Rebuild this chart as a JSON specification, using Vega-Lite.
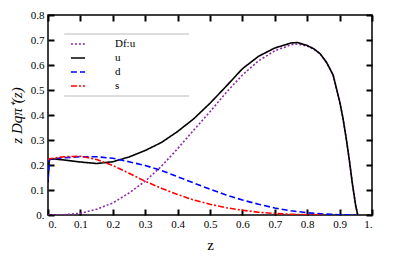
{
  "$schema": "https://vega.github.io/schema/vega-lite/v6.json",
  "width": 324,
  "height": 200,
  "autosize": {"type": "none"},
  "padding": {"left": 48, "top": 15, "right": 43, "bottom": 43},
  "config": {
    "font": "Liberation Serif",
    "view": {"stroke": "black", "strokeWidth": 1.5}
  },
  "data": {"values": [
    {"series": "Df:u", "z": 0, "v": 0},
    {"series": "Df:u", "z": 0.05, "v": 0.001},
    {"series": "Df:u", "z": 0.1, "v": 0.007},
    {"series": "Df:u", "z": 0.15, "v": 0.023},
    {"series": "Df:u", "z": 0.2, "v": 0.048},
    {"series": "Df:u", "z": 0.25, "v": 0.088},
    {"series": "Df:u", "z": 0.3, "v": 0.135},
    {"series": "Df:u", "z": 0.35, "v": 0.195},
    {"series": "Df:u", "z": 0.4, "v": 0.265},
    {"series": "Df:u", "z": 0.45, "v": 0.34},
    {"series": "Df:u", "z": 0.5, "v": 0.413},
    {"series": "Df:u", "z": 0.55, "v": 0.49},
    {"series": "Df:u", "z": 0.6, "v": 0.56},
    {"series": "Df:u", "z": 0.65, "v": 0.617},
    {"series": "Df:u", "z": 0.7, "v": 0.657},
    {"series": "Df:u", "z": 0.75, "v": 0.681},
    {"series": "Df:u", "z": 0.77, "v": 0.684},
    {"series": "Df:u", "z": 0.8, "v": 0.676},
    {"series": "Df:u", "z": 0.82, "v": 0.664},
    {"series": "Df:u", "z": 0.84, "v": 0.644},
    {"series": "Df:u", "z": 0.86, "v": 0.609},
    {"series": "Df:u", "z": 0.88, "v": 0.56},
    {"series": "Df:u", "z": 0.9, "v": 0.455},
    {"series": "Df:u", "z": 0.91, "v": 0.39},
    {"series": "Df:u", "z": 0.92, "v": 0.31},
    {"series": "Df:u", "z": 0.93, "v": 0.22},
    {"series": "Df:u", "z": 0.94, "v": 0.12},
    {"series": "Df:u", "z": 0.95, "v": 0.035},
    {"series": "Df:u", "z": 0.956, "v": 0},
    {"series": "u", "z": 0, "v": 0.13},
    {"series": "u", "z": 0.004, "v": 0.222},
    {"series": "u", "z": 0.02, "v": 0.224},
    {"series": "u", "z": 0.05, "v": 0.22},
    {"series": "u", "z": 0.1, "v": 0.212},
    {"series": "u", "z": 0.15, "v": 0.206},
    {"series": "u", "z": 0.2, "v": 0.213},
    {"series": "u", "z": 0.25, "v": 0.232},
    {"series": "u", "z": 0.3, "v": 0.258},
    {"series": "u", "z": 0.35, "v": 0.29},
    {"series": "u", "z": 0.4, "v": 0.334},
    {"series": "u", "z": 0.45, "v": 0.385},
    {"series": "u", "z": 0.5, "v": 0.447},
    {"series": "u", "z": 0.55, "v": 0.515},
    {"series": "u", "z": 0.6, "v": 0.585},
    {"series": "u", "z": 0.65, "v": 0.635},
    {"series": "u", "z": 0.7, "v": 0.668},
    {"series": "u", "z": 0.75, "v": 0.688},
    {"series": "u", "z": 0.77, "v": 0.69},
    {"series": "u", "z": 0.8, "v": 0.678},
    {"series": "u", "z": 0.82, "v": 0.665},
    {"series": "u", "z": 0.84, "v": 0.645},
    {"series": "u", "z": 0.86, "v": 0.61},
    {"series": "u", "z": 0.88, "v": 0.56},
    {"series": "u", "z": 0.9, "v": 0.455},
    {"series": "u", "z": 0.91, "v": 0.39},
    {"series": "u", "z": 0.92, "v": 0.31},
    {"series": "u", "z": 0.93, "v": 0.22},
    {"series": "u", "z": 0.94, "v": 0.12},
    {"series": "u", "z": 0.95, "v": 0.035},
    {"series": "u", "z": 0.956, "v": 0},
    {"series": "d", "z": 0, "v": 0.14},
    {"series": "d", "z": 0.004, "v": 0.222},
    {"series": "d", "z": 0.03, "v": 0.227},
    {"series": "d", "z": 0.1, "v": 0.233},
    {"series": "d", "z": 0.15, "v": 0.233},
    {"series": "d", "z": 0.2, "v": 0.227},
    {"series": "d", "z": 0.25, "v": 0.213},
    {"series": "d", "z": 0.3, "v": 0.198},
    {"series": "d", "z": 0.35, "v": 0.178},
    {"series": "d", "z": 0.4, "v": 0.153},
    {"series": "d", "z": 0.45, "v": 0.128},
    {"series": "d", "z": 0.5, "v": 0.103},
    {"series": "d", "z": 0.55, "v": 0.08},
    {"series": "d", "z": 0.6, "v": 0.06},
    {"series": "d", "z": 0.65, "v": 0.043},
    {"series": "d", "z": 0.7, "v": 0.028},
    {"series": "d", "z": 0.75, "v": 0.017},
    {"series": "d", "z": 0.8, "v": 0.009},
    {"series": "d", "z": 0.85, "v": 0.004},
    {"series": "d", "z": 0.9, "v": 0.001},
    {"series": "d", "z": 0.95, "v": 0},
    {"series": "s", "z": 0, "v": 0.22},
    {"series": "s", "z": 0.004, "v": 0.225},
    {"series": "s", "z": 0.05, "v": 0.233},
    {"series": "s", "z": 0.1, "v": 0.235},
    {"series": "s", "z": 0.15, "v": 0.222},
    {"series": "s", "z": 0.2, "v": 0.198},
    {"series": "s", "z": 0.25, "v": 0.167},
    {"series": "s", "z": 0.3, "v": 0.135},
    {"series": "s", "z": 0.35, "v": 0.107},
    {"series": "s", "z": 0.4, "v": 0.082},
    {"series": "s", "z": 0.45, "v": 0.06},
    {"series": "s", "z": 0.5, "v": 0.043},
    {"series": "s", "z": 0.55, "v": 0.029},
    {"series": "s", "z": 0.6, "v": 0.019},
    {"series": "s", "z": 0.65, "v": 0.011},
    {"series": "s", "z": 0.7, "v": 0.006},
    {"series": "s", "z": 0.75, "v": 0.003},
    {"series": "s", "z": 0.8, "v": 0.001},
    {"series": "s", "z": 0.85, "v": 0}
  ]},
  "layer": [
    {
      "mark": {"type": "line", "strokeWidth": 1.6, "clip": true},
      "encoding": {
        "x": {
          "field": "z", "type": "quantitative",
          "scale": {"domain": [0, 1], "nice": false, "zero": false},
          "axis": {
            "orient": "bottom", "title": "z", "domain": false, "grid": false,
            "values": [0, 0.1, 0.2, 0.3, 0.4, 0.5, 0.6, 0.7, 0.8, 0.9, 1],
            "labelExpr": "datum.value == 0 ? '0.' : datum.value == 1 ? '1.' : format(datum.value, '.1f')",
            "tickSize": -6, "tickColor": "#000000", "tickWidth": 2,
            "labelFont": "Liberation Serif", "labelFontSize": 11, "labelColor": "black", "labelOverlap": false,
            "titleFont": "Liberation Serif", "titleFontSize": 15, "titleFontWeight": "normal", "titleColor": "black",
            "labelPadding": 9, "titlePadding": 8
          }
        },
        "y": {
          "field": "v", "type": "quantitative",
          "scale": {"domain": [0, 0.8], "nice": false, "zero": false},
          "axis": {
            "orient": "left", "title": "z Dq\u03c0\u207a(z)", "domain": false, "grid": false,
            "titleFontStyle": "italic",
            "values": [0, 0.1, 0.2, 0.3, 0.4, 0.5, 0.6, 0.7, 0.8],
            "labelExpr": "datum.value == 0 ? '0.' : format(datum.value, '.1f')",
            "tickSize": -6, "tickColor": "#000000", "tickWidth": 2,
            "labelFont": "Liberation Serif", "labelFontSize": 11, "labelColor": "black", "labelOverlap": false,
            "titleFont": "Liberation Serif", "titleFontSize": 15, "titleFontWeight": "normal", "titleColor": "black",
            "labelPadding": 10, "titlePadding": 6
          }
        },
        "color": {
          "field": "series", "type": "nominal",
          "scale": {"domain": ["Df:u", "u", "d", "s"], "range": ["#8e24aa", "#000000", "#0000ff", "#ff0000"]},
          "legend": {
            "orient": "none", "legendX": 22, "legendY": 21, "title": null,
            "symbolType": "stroke", "symbolSize": 200, "symbolStrokeWidth": 1.6,
            "labelFont": "Liberation Serif", "labelFontSize": 11, "labelColor": "black",
            "labelOffset": 29, "rowPadding": 1, "padding": 0
          }
        },
        "strokeDash": {
          "field": "series", "type": "nominal",
          "scale": {"domain": ["Df:u", "u", "d", "s"], "range": [[2, 2], [1, 0], [6, 3], [6, 2, 2, 2]]},
          "legend": {
            "orient": "none", "legendX": 22, "legendY": 21, "title": null,
            "symbolType": "stroke", "symbolSize": 200, "symbolStrokeWidth": 1.6,
            "labelFont": "Liberation Serif", "labelFontSize": 11, "labelColor": "black",
            "labelOffset": 29, "rowPadding": 1, "padding": 0
          }
        }
      }
    },
    {
      "mark": {"type": "rule", "color": "#dcdcdc", "strokeWidth": 1},
      "encoding": {
        "x": {"datum": 0.052, "type": "quantitative", "axis": null},
        "x2": {"datum": 0.435},
        "y": {"datum": 0.724, "type": "quantitative", "axis": null}
      }
    },
    {
      "mark": {"type": "rule", "color": "#dcdcdc", "strokeWidth": 1},
      "encoding": {
        "x": {"datum": 0.052, "type": "quantitative", "axis": null},
        "x2": {"datum": 0.435},
        "y": {"datum": 0.476, "type": "quantitative", "axis": null}
      }
    },
    {
      "mark": {"type": "line", "strokeOpacity": 0},
      "encoding": {
        "x": {
          "field": "z", "type": "quantitative",
          "axis": {"orient": "top", "title": null, "labels": false, "domain": false, "grid": false,
            "tickSize": -6, "tickColor": "#000000", "tickWidth": 2,
            "values": [0, 0.1, 0.2, 0.3, 0.4, 0.5, 0.6, 0.7, 0.8, 0.9, 1]}
        },
        "y": {
          "field": "v", "type": "quantitative",
          "axis": {"orient": "right", "title": null, "labels": false, "domain": false, "grid": false,
            "tickSize": -6, "tickColor": "#000000", "tickWidth": 2,
            "values": [0, 0.1, 0.2, 0.3, 0.4, 0.5, 0.6, 0.7, 0.8]}
        },
        "detail": {"field": "series"}
      }
    }
  ],
  "resolve": {"axis": {"x": "independent", "y": "independent"}}
}
